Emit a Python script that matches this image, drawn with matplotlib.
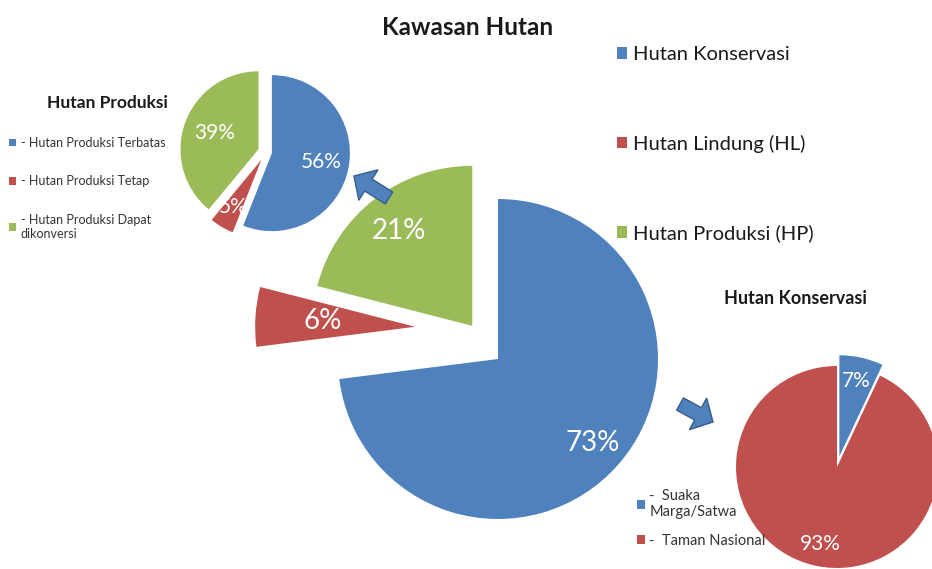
import numpy as np
import matplotlib
matplotlib.use("Agg")
import matplotlib.pyplot as plt
from matplotlib.patches import FancyArrow

plt.rcParams["font.family"] = ["Lato", "DejaVu Sans"]

W, H = 932, 569

BLUE, RED, GREEN = "#4F81BD", "#C0504D", "#9BBB59"

# main pie: Kawasan Hutan
main_labels = ["Hutan Konservasi", "Hutan Lindung (HL)", "Hutan Produksi (HP)"]
main_values = [73, 6, 21]

# top-left pie: Hutan Produksi
prod_labels = ["- Hutan Produksi Terbatas", "- Hutan Produksi Tetap",
               "- Hutan Produksi Dapat\ndikonversi"]
prod_values = [56, 5, 39]

# bottom-right pie: Hutan Konservasi
kons_labels = ["-  Suaka\nMarga/Satwa", "-  Taman Nasional"]
kons_values = [7, 93]


def Y(y):
    # pixel row (from top) -> data y
    return H - y


def place(texts, wedges, dists):
    for t, w, d in zip(texts, wedges, dists):
        ang = np.deg2rad((w.theta1 + w.theta2) / 2)
        cx, cy = w.center
        t.set_position((cx + d * w.r * np.cos(ang), cy + d * w.r * np.sin(ang)))


def draw_pie(ax, values, colors, center, radius, explode, fs, dists):
    wedges, _, pcts = ax.pie(values, colors=colors, startangle=90, counterclock=False,
                             center=center, radius=radius, explode=explode,
                             autopct="%d%%", wedgeprops=dict(linewidth=0),
                             textprops=dict(color="white", fontsize=fs))
    place(pcts, wedges, dists)
    return wedges, pcts


fig = plt.figure(figsize=(W / 100, H / 100), dpi=100)
ax = fig.add_axes([0, 0, 1, 1])

# ---- main pie ----
mw, mp = draw_pie(ax, main_values, [BLUE, RED, GREEN], (498, Y(359)), 160,
                  [0, 83, 42], 20, [0.79, 0.58, 0.75])
# red slice was dragged up a bit further than a plain explode
cx, cy = mw[1].center
mw[1].set_center((cx, cy + 27))
place([mp[1]], [mw[1]], [0.58])

# ---- Hutan Produksi pie ----
pw, pp = draw_pie(ax, prod_values, [BLUE, RED, GREEN], (266, Y(152)), 78,
                  [6, 9, 8], 15, [0.64, 0.71, 0.6])

# ---- Hutan Konservasi pie ----
kw, kp = draw_pie(ax, kons_values, [BLUE, RED], (837, Y(467)), 101,
                  [11, 0], 15, [0.76, 0.78])

ax.set_xlim(0, W)
ax.set_ylim(0, H)
ax.set_aspect("equal")
ax.axis("off")

# arrows
arrow_kw = dict(width=14, head_width=36, head_length=17, length_includes_head=True,
                fc=BLUE, ec="#385D8A", lw=1)
ax.add_patch(FancyArrow(389, Y(198), -35, 22, **arrow_kw))
ax.add_patch(FancyArrow(680, Y(404), 33, -18, **arrow_kw))

# titles
ax.text(468, Y(27), "Kawasan Hutan", ha="center", va="center",
        fontsize=17.5, fontweight="bold", color="#1a1a1a")
ax.text(107, Y(103), "Hutan Produksi", ha="center", va="center",
        fontsize=12.5, fontweight="bold", color="#1a1a1a")
ax.text(795, Y(298), "Hutan Konservasi", ha="center", va="center",
        fontsize=13, fontweight="bold", color="#1a1a1a")

# legends
leg1 = ax.legend(mw, main_labels, loc="upper left", bbox_to_anchor=(617, Y(46)),
                 bbox_transform=ax.transData, frameon=False, fontsize=14.5,
                 handlelength=0.5, handleheight=0.5, handletextpad=0.3,
                 labelspacing=3.55, borderpad=0, borderaxespad=0)
for t in leg1.get_texts():
    t.set_color("#1a1a1a")
ax.add_artist(leg1)

leg2 = ax.legend(pw, prod_labels, loc="upper left", bbox_to_anchor=(9, Y(137)),
                 bbox_transform=ax.transData, frameon=False, fontsize=9,
                 handlelength=0.55, handleheight=0.55, handletextpad=0.4,
                 labelspacing=2.1, borderpad=0, borderaxespad=0)
for t in leg2.get_texts():
    t.set_color("#333333")
ax.add_artist(leg2)

leg3 = ax.legend(kw, kons_labels, loc="upper left", bbox_to_anchor=(637, Y(489)),
                 bbox_transform=ax.transData, frameon=False, fontsize=10.5,
                 handlelength=0.55, handleheight=0.55, handletextpad=0.3,
                 labelspacing=1.0, borderpad=0, borderaxespad=0)
for t in leg3.get_texts():
    t.set_color("#333333")

fig.savefig("out.png", dpi=100, facecolor="white")
